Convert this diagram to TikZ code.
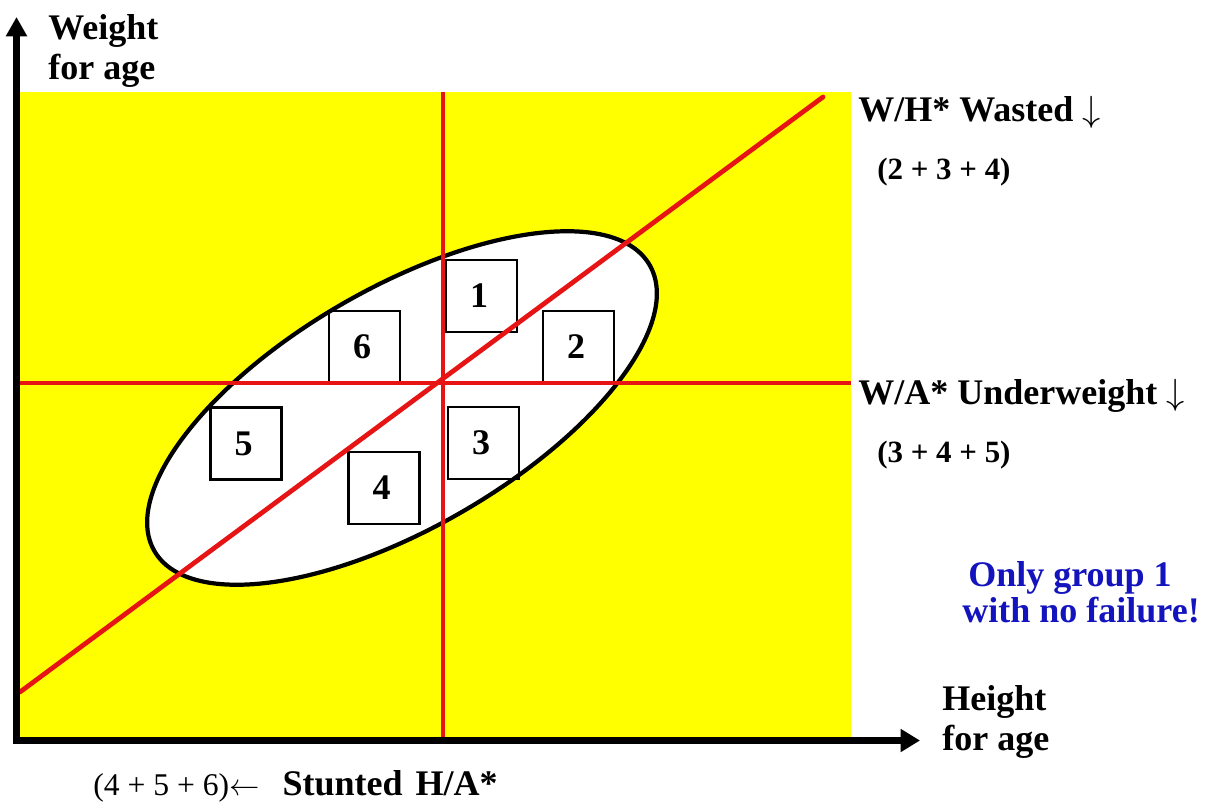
\documentclass[tikz,border=0pt]{standalone}
\usepackage{fontspec}
\setmainfont{Liberation Serif}
\usetikzlibrary{arrows.meta,shapes.geometric}
\definecolor{redl}{RGB}{230,20,20}
\definecolor{bluet}{RGB}{20,20,190}
\definecolor{yel}{RGB}{255,255,0}
\begin{document}
\begin{tikzpicture}[x=0.02cm,y=-0.02cm,
  box/.style={draw, line width=1.3pt, minimum width=1.42cm, minimum height=1.44cm, inner sep=0pt,
    font=\fontsize{20.5}{22}\selectfont\bfseries},
  redline/.style={draw=redl, line width=2.7pt},
  axis/.style={line width=3.8pt, {Triangle[length=11pt,width=11.5pt]}-{Triangle[length=11pt,width=12.5pt]}},
  lab/.style={anchor=base west, inner sep=0pt, font=\fontsize{20.5}{23.2}\selectfont\bfseries},
  sub/.style={anchor=base west, inner sep=0pt, font=\fontsize{17.6}{20}\selectfont\bfseries}]
\useasboundingbox (0,0) rectangle (1213,803);
% background field
\fill[yel] (20,92) rectangle (851,738);
% ellipse
\node (ell) [ellipse, draw, line width=2.4pt, fill=white, minimum width=11.44cm,
  minimum height=4.8cm, rotate=30, inner sep=0pt] at (402,408) {};
% boxes
\node[box] (b1) at (481.5,296) {1\hspace*{0.1cm}};
\node[box] (b6) at (364.5,347) {6\hspace*{0.1cm}};
\node[box] (b2) at (578.5,347) {2\hspace*{0.1cm}};
\node[box] (b5) at (246,443.5) {5\hspace*{0.1cm}};
\node[box] (b3) at (483.5,443) {3\hspace*{0.1cm}};
\node[box] (b4) at (384,488) {4\hspace*{0.1cm}};
% red lines
\coordinate (vT) at (443,92);
\coordinate (vB) at (443,738);
\coordinate (hL) at (20,383);
\coordinate (hR) at (851,383);
\coordinate (dL) at (20,692);
\coordinate (dR) at (823,97);
\draw[redline] (vT) -- (vB);
\draw[redline] (hL) -- (hR);
\draw[redline, line cap=round] (dL) -- (dR);
% axes
\coordinate (ytip) at (16.5,17);
\coordinate (org) at (16.5,740.5);
\coordinate (xtip) at (920,740.5);
\draw[axis] (ytip) -- (org) -- (xtip);
% labels
\node[lab, align=left] (ylab) at (48,80) {Weight\\for age};
\node[lab] (wh) at (858,122) {W/H* Wasted $\downarrow$};
\node[sub] (whn) at (877,180) {(2 + 3 + 4)};
\node[lab] (wa) at (858,405) {W/A* Underweight $\downarrow$};
\node[sub] (wan) at (877,462) {(3 + 4 + 5)};
\node[lab, text=bluet, align=center, anchor=base, font=\fontsize{20.5}{20.2}\selectfont\bfseries] (note) at (1081,622) {Only group 1\hspace*{0.44cm}\\with no failure!};
\node[lab, align=left, font=\fontsize{20.5}{22.7}\selectfont\bfseries] (xlab) at (942,750) {Height\\for age};
\node[lab] (ha) at (93,795) {\fontsize{18}{20}\selectfont\mdseries(4 + 5 + 6)$\leftarrow$\hspace{0.46cm}\fontsize{20.5}{23}\selectfont\bfseries Stunted\hspace{0.26cm}H/A*};
\end{tikzpicture}
\end{document}
